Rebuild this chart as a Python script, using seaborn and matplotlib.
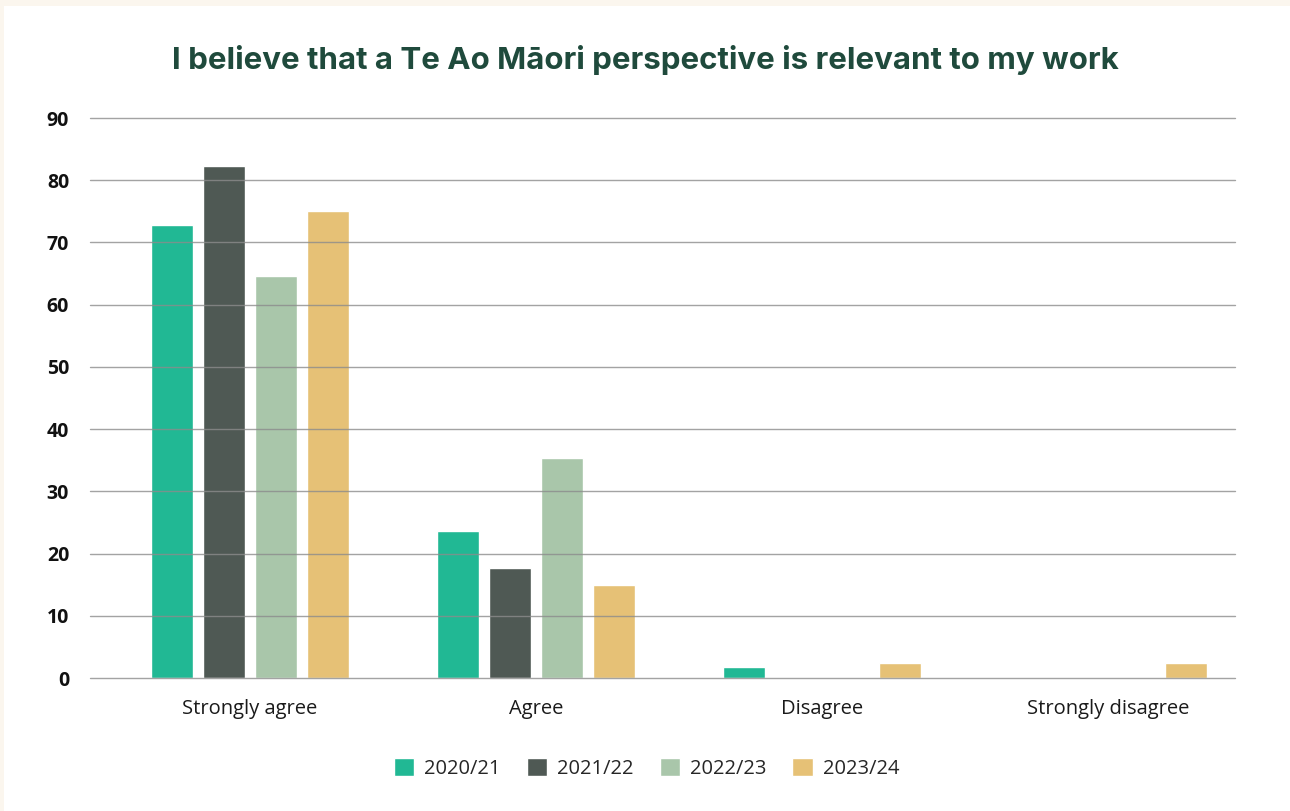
import pandas as pd
import seaborn as sns
import matplotlib.pyplot as plt
from matplotlib.patches import Rectangle

# data
categories = ["Strongly agree", "Agree", "Disagree", "Strongly disagree"]
years = ["2020/21", "2021/22", "2022/23", "2023/24"]
v_2020 = [72.8, 23.6, 1.8, 0]
v_2021 = [82.3, 17.7, 0, 0]
v_2022 = [64.6, 35.4, 0, 0]
v_2023 = [75.0, 14.9, 2.4, 2.4]
colors = ["#21b894", "#4f5954", "#a9c6aa", "#e6c176"]
yticks = list(range(0, 91, 10))

rows = []
for yr, vals in zip(years, [v_2020, v_2021, v_2022, v_2023]):
    for cat, v in zip(categories, vals):
        rows.append({"Response": cat, "Year": yr, "Value": v})
df = pd.DataFrame(rows)

sns.set_style("white")
plt.rcParams["font.family"] = ["Open Sans", "DejaVu Sans"]

fig = plt.figure(figsize=(12.9, 8.11), dpi=100)
fig.patch.set_facecolor("#fbf6ee")
fig.patches.append(Rectangle((4 / 1290, 0), 1, 1 - 6 / 811, transform=fig.transFigure,
                             facecolor="white", edgecolor="none", zorder=-5))

ax = fig.add_axes([90 / 1290, 1 - 678 / 811, 1145 / 1290, 560 / 811])
ax.set_zorder(2)
ax.set_facecolor("none")

sns.barplot(data=df, x="Response", y="Value", hue="Year", palette=colors,
            width=0.727, gap=0.19, saturation=1, ax=ax, zorder=2)

ax.set_ylim(0, 90)
ax.set_xlim(-0.559, 3.444)
ax.set_yticks(yticks, labels=[str(t) for t in yticks], fontweight="bold",
              fontsize=14, color="#111111")
ax.yaxis.grid(True, color="#8c8c8c", linewidth=1, alpha=0.8, zorder=3)
for gl in ax.get_ygridlines():
    gl.set_clip_on(False)
ax.set_axisbelow(False)
for s in ax.spines.values():
    s.set_visible(False)
ax.tick_params(axis="both", length=0)
ax.tick_params(axis="y", pad=15)
ax.tick_params(axis="x", pad=15)
for lab in ax.get_xticklabels():
    lab.set_fontsize(14.5)
    lab.set_color("#1a1a1a")
ax.set_xlabel("")
ax.set_ylabel("")

ax.legend(loc="upper center", bbox_to_anchor=(0.486, -0.11), ncol=4, frameon=False,
          fontsize=14.5, handlelength=1.0, handleheight=1.0, handletextpad=0.5,
          columnspacing=1.3)

fig.text(0.5, 1 - 60 / 811, "I believe that a Te Ao Māori perspective is relevant to my work",
         ha="center", va="center", fontsize=22.5, fontweight="bold", color="#1f4a3c",
         family=["Inter", "DejaVu Sans"])

fig.savefig("out.png", dpi=100)
